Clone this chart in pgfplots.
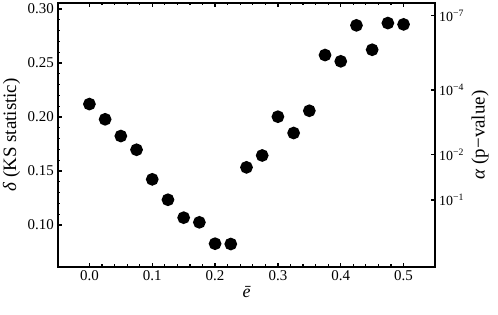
\documentclass[border=0pt]{standalone}
\usepackage{fontspec}
\setmainfont{Liberation Serif}
\usepackage{pgfplots}
\pgfplotsset{compat=1.18}
\begin{document}
\begin{tikzpicture}
\pgfplotsset{
  common/.style={
    scale only axis, width=377bp, height=263.7bp,
    xmin=-0.05, xmax=0.55, ymin=0.0614, ymax=0.3056,
    tick align=inside,
    major tick length=4bp, minor tick length=2.2bp,
    tick style={line width=1.2bp, black},
    tick label style={font=\fontsize{15}{17}\selectfont},
    label style={font=\fontsize{19}{21}\selectfont},
    line width=1.7bp,
  },
}
\begin{axis}[
  common,
  xtick={0,0.1,0.2,0.3,0.4,0.5}, minor x tick num=4,
  ytick={0.10,0.15,0.20,0.25,0.30}, minor y tick num=4,
  ytick pos=left,
  /pgf/number format/assume math mode=true,
  xticklabel style={/pgf/number format/.cd, fixed, fixed zerofill, precision=1},
  yticklabel style={/pgf/number format/.cd, fixed, fixed zerofill, precision=2},
  xlabel={\itshape ē}, ylabel={{\itshape δ} (KS statistic)},
  xlabel style={font=\fontsize{18}{20}\selectfont, yshift=2bp},
]
\addplot[only marks, mark=*, mark size=5.5bp, black, mark options={fill=black}] coordinates {
(0.000,0.2120) (0.025,0.1979) (0.050,0.1824) (0.075,0.1697)
(0.100,0.1423) (0.125,0.1234) (0.150,0.1068) (0.175,0.1025)
(0.200,0.0827) (0.225,0.0824) (0.250,0.1534) (0.275,0.1644)
(0.300,0.2003) (0.325,0.1852) (0.350,0.2058) (0.375,0.2574)
(0.400,0.2516) (0.425,0.2849) (0.450,0.2623) (0.475,0.2870)
(0.500,0.2858)
};
\end{axis}
\begin{axis}[
  common,
  axis x line=none, axis y line*=right,
  ytick={0.1232,0.1651,0.2250,0.2938},
  yticklabels={10\textsuperscript{−1},10\textsuperscript{−2},10\textsuperscript{−4},10\textsuperscript{−7}},
  yticklabel style={font=\fontsize{14}{16}\selectfont},
  minor y tick num=0,
  ylabel={{\itshape α} (p−value)},
]
\end{axis}
\pgfresetboundingbox
\path (current axis.south west) ++(-58bp,-48.3bp) rectangle ++(498bp,315bp);
\end{tikzpicture}
\end{document}
